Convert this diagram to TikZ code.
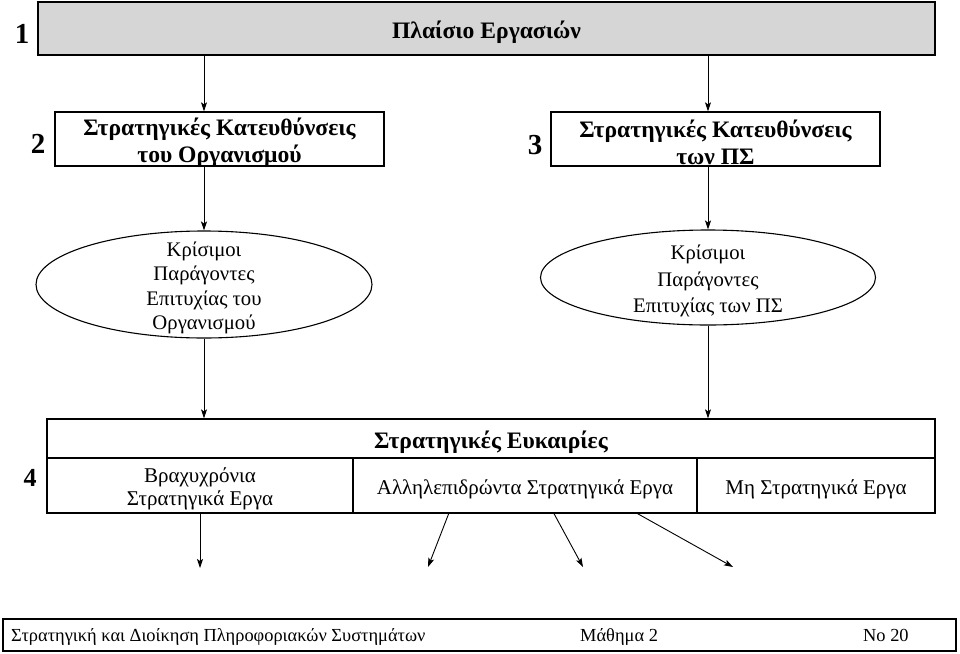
\documentclass[tikz,border=0pt]{standalone}
\usepackage{fontspec}
\setmainfont{Liberation Serif}
\usetikzlibrary{arrows.meta,shapes.geometric,calc}
\begin{document}
\begin{tikzpicture}[x=1pt,y=-1pt,
  box/.style={draw,line width=1.3pt,rectangle,inner sep=0pt,align=center},
  oval/.style={draw,line width=1.1pt,ellipse,inner sep=0pt},
  ovtxt/.style={align=center,font=\fontsize{20.7}{24.5}\selectfont,yshift=-3.5pt},
  num/.style={font=\fontsize{29}{29}\selectfont\bfseries},
  arr/.style={line width=0.9pt,-{Stealth[length=9pt,width=6pt,inset=2pt]}},
  cell/.style={align=center,font=\fontsize{21}{22.5}\selectfont,yshift=-3.5pt},
  hd/.style={align=center,font=\fontsize{23.6}{27}\selectfont\bfseries,yshift=-3.5pt},
  ft/.style={anchor=base west,inner sep=0pt,font=\fontsize{18.4}{20}\selectfont},
]
\useasboundingbox (0,0) rectangle (960,653);
% top bar
\node[box,fill=gray!32,minimum width=897pt,minimum height=53pt,
  label={[hd]center:{Πλαίσιο Εργασιών}}] (bar) at (486.5,28.5) {};
\node[num] (n1) at (22,34) {1};
% boxes 2 and 3
\node[box,minimum width=329pt,minimum height=54pt,
  label={[hd]center:{Στρατηγικές Κατευθύνσεις\\του Οργανισμού}}] (box2) at (219.5,139) {};
\node[num] (n2) at (38,144) {2};
\node[box,minimum width=329pt,minimum height=54pt,
  label={[hd]center:{Στρατηγικές Κατευθύνσεις\\των ΠΣ}}] (box3) at (715.5,139) {};
\node[num] (n3) at (535,145) {3};
% ellipses
\node[oval,minimum width=336pt,minimum height=107pt,
  label={[ovtxt]center:{Κρίσιμοι\\Παράγοντες\\Επιτυχίας του\\Οργανισμού}}] (e1) at (204,284.5) {};
\node[oval,minimum width=335pt,minimum height=95pt,
  label={[ovtxt,font=\fontsize{20.7}{26.5}\selectfont]center:{Κρίσιμοι\\Παράγοντες\\Επιτυχίας των ΠΣ}}] (e2) at (708,277.5) {};
% table
\node[box,minimum width=888pt,minimum height=39pt,
  label={[hd]center:{Στρατηγικές Ευκαιρίες}}] (tab) at (491,438.5) {};
\node[box,minimum width=306pt,minimum height=55pt,
  label={[cell]center:{Βραχυχρόνια\\Στρατηγικά Εργα}}] (c1) at (200,485.5) {};
\node[box,minimum width=344pt,minimum height=55pt,
  label={[cell]center:{Αλληλεπιδρώντα Στρατηγικά Εργα}}] (c2) at (525,485.5) {};
\node[box,minimum width=238pt,minimum height=55pt,
  label={[cell]center:{Μη Στρατηγικά Εργα}}] (c3) at (816,485.5) {};
\node[font=\fontsize{26}{26}\selectfont\bfseries] (n4) at (30,478) {4};
% arrows
\draw[arr] (bar.south -| e1) -- (box2.north -| e1);
\draw[arr] (bar.south -| e2) -- (box3.north -| e2);
\draw[arr] (box2.south -| e1) -- (e1.north);
\draw[arr] (box3.south -| e2) -- (e2.north);
\draw[arr] (e1.south) -- (e1.south |- tab.north);
\draw[arr] (e2.south) -- (e2.south |- tab.north);
\coordinate (t0) at (200,568);
\coordinate (t1) at (428,567);
\coordinate (t2) at (583,567);
\coordinate (t3) at (733,567);
\draw[arr] (c1.south) -- (t0);
\draw[arr] ($(c2.south west)!0.279!(c2.south east)$) -- (t1);
\draw[arr] ($(c2.south west)!0.584!(c2.south east)$) -- (t2);
\draw[arr] ($(c2.south west)!0.826!(c2.south east)$) -- (t3);
% footer
\node[box,minimum width=953pt,minimum height=32pt] (foot) at (479.5,635) {};
\node[ft] (f1) at (11,641) {Στρατηγική και Διοίκηση Πληροφοριακών Συστημάτων};
\node[ft] (f2) at (580,641) {Μάθημα 2};
\node[ft] (f3) at (863,641) {No 20};
\end{tikzpicture}
\end{document}
